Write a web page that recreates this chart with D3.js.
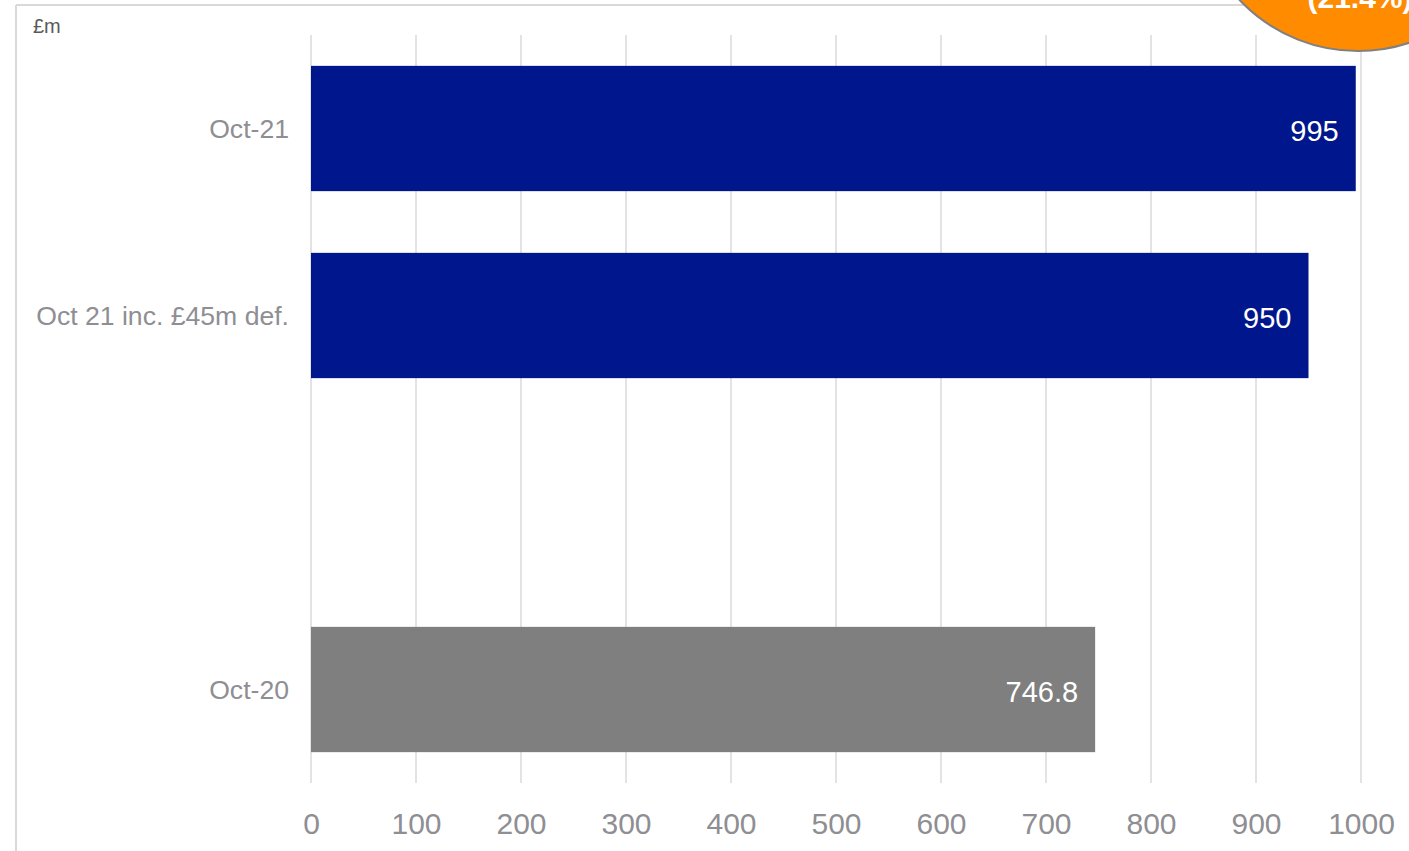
<!DOCTYPE html>
<html>
<head>
<meta charset="utf-8">
<script src="https://cdn.jsdelivr.net/npm/d3@7"></script>
<style>
  html, body { margin: 0; padding: 0; background: #fff; }
  svg { display: block; font-family: "Liberation Sans", Arial, sans-serif; }
</style>
</head>
<body>
<svg id="chart" width="1409" height="851"></svg>
<script>
const categories = ["Oct-21", "Oct 21 inc. £45m def.", "", "Oct-20"];
const values = [995, 950, null, 746.8];
const valueLabels = ["995", "950", "", "746.8"];
const barColors = ["#00168C", "#00168C", "#00168C", "#7F7F7F"];
const xTicks = [0, 100, 200, 300, 400, 500, 600, 700, 800, 900, 1000];
const unitLabel = "£m";
const badgeText = "(21.4%)";

const svg = d3.select("#chart");
const keys = categories.map((c, i) => i);

const x = d3.scaleLinear().domain([0, 1000]).range([311, 1361]);
const y = d3.scaleBand().domain(keys).range([35, 783]).paddingInner(0.33).paddingOuter(0.165);

// frame
svg.append("line").attr("x1", 16).attr("x2", 1409).attr("y1", 5).attr("y2", 5)
  .attr("stroke", "#d9d9d9").attr("stroke-width", 2);
svg.append("line").attr("x1", 16).attr("x2", 16).attr("y1", 5).attr("y2", 851)
  .attr("stroke", "#d9d9d9").attr("stroke-width", 2);

// unit label
svg.append("text").attr("x", 33).attr("y", 33).attr("font-size", 20)
  .attr("fill", "#595959").text(unitLabel);

// gridlines
svg.append("g").selectAll("line").data(xTicks).join("line")
  .attr("x1", d => x(d)).attr("x2", d => x(d))
  .attr("y1", 35).attr("y2", 783)
  .attr("stroke", "#e3e3e3").attr("stroke-width", 2);

// x axis tick labels
const xAxis = d3.axisBottom(x).tickValues(xTicks).tickFormat(d3.format("d")).tickSize(0).tickPadding(0);
const gx = svg.append("g").attr("transform", "translate(0,813)").call(xAxis);
gx.select(".domain").remove();
gx.selectAll("text").attr("font-size", 30).attr("fill", "#8e8e93")
  .attr("font-family", "\"Liberation Sans\", Arial, sans-serif").attr("dy", "0.71em");

// y axis category labels
const yAxis = d3.axisLeft(y).tickFormat(i => categories[i]).tickSize(0).tickPadding(0);
const gy = svg.append("g").attr("transform", "translate(289,0)").call(yAxis);
gy.select(".domain").remove();
gy.selectAll("text").attr("font-size", 26.6).attr("fill", "#8e8e93")
  .attr("font-family", "\"Liberation Sans\", Arial, sans-serif").attr("dy", "0.36em");

// bars
const rows = keys.filter(i => values[i] != null);
svg.append("g").selectAll("rect").data(rows).join("rect")
  .attr("x", x(0)).attr("y", i => y(i))
  .attr("width", i => x(values[i]) - x(0))
  .attr("height", y.bandwidth())
  .attr("fill", i => barColors[i]);

// value labels
svg.append("g").selectAll("text").data(rows).join("text")
  .attr("x", i => x(values[i]) - 17)
  .attr("y", i => y(i) + y.bandwidth() / 2 + 2)
  .attr("dy", "0.36em")
  .attr("text-anchor", "end")
  .attr("font-size", 29)
  .attr("fill", "#ffffff")
  .text(i => valueLabels[i]);

// orange badge
svg.append("circle").attr("cx", 1358).attr("cy", -112).attr("r", 163)
  .attr("fill", "#FF8C00").attr("stroke", "#808080").attr("stroke-width", 2);
svg.append("text").attr("x", 1360).attr("y", 8).attr("text-anchor", "middle")
  .attr("font-size", 30).attr("font-weight", "bold").attr("fill", "#ffffff")
  .text(badgeText);
</script>
</body>
</html>
